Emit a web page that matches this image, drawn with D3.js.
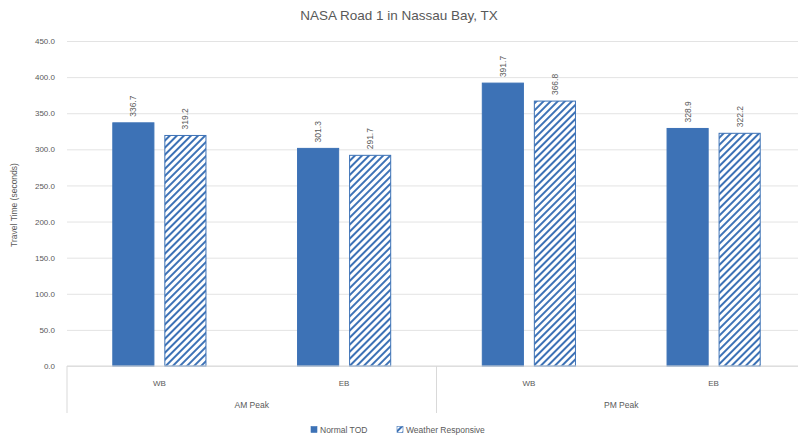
<!DOCTYPE html>
<html>
<head>
<meta charset="utf-8">
<script src="https://cdn.jsdelivr.net/npm/d3@7"></script>
<style>
  body { margin: 0; background: #fff; }
  text { font-family: "Liberation Sans", Arial, sans-serif; fill: #595959; }
</style>
</head>
<body>
<div id="chart"></div>
<script>
var groups = ["AM Peak", "PM Peak"];
var directions = ["WB", "EB"];
var categories = ["AM Peak|WB", "AM Peak|EB", "PM Peak|WB", "PM Peak|EB"];
var seriesNames = ["Normal TOD", "Weather Responsive"];
var normalTOD = [336.7, 301.3, 391.7, 328.9];
var weatherResponsive = [319.2, 291.7, 366.8, 322.2];
var yTicks = [0, 50, 100, 150, 200, 250, 300, 350, 400, 450];

function init(){
    var w = 798;
    var h = 442;
    var left = 67, right = 806, top = 41, bottom = 366;
    var blue = "#3d72b6";

    var svg = d3.select("#chart").append("svg")
        .attr("width", w)
        .attr("height", h);

    var defs = svg.append("defs");
    var pat = defs.append("pattern")
        .attr("id", "hatch")
        .attr("patternUnits", "userSpaceOnUse")
        .attr("width", 5)
        .attr("height", 5)
        .attr("patternTransform", "rotate(45)");
    pat.append("rect").attr("width", 5).attr("height", 5).attr("fill", "#fff");
    pat.append("rect").attr("width", 2).attr("height", 5).attr("fill", blue);

    var xScale = d3.scaleBand().domain(categories).range([left, right]);
    var xInner = d3.scaleBand().domain(seriesNames)
        .range([0, xScale.bandwidth()])
        .paddingInner(0.21)
        .paddingOuter(0.88);
    var yScale = d3.scaleLinear().domain([0, 450]).range([bottom, top]);

    // title
    svg.append("text")
        .attr("x", 399).attr("y", 20)
        .attr("text-anchor", "middle")
        .attr("font-size", 13.5)
        .text("NASA Road 1 in Nassau Bay, TX");

    // gridlines
    var yAxis = d3.axisLeft(yScale).tickValues(yTicks)
        .tickSize(-(right - left))
        .tickFormat(d3.format(".1f"))
        .tickPadding(12);
    var gy = svg.append("g")
        .attr("transform", `translate(${left},0)`)
        .call(yAxis);
    gy.select(".domain").remove();
    gy.selectAll(".tick line").attr("stroke", "#e3e3e3");
    gy.selectAll(".tick text").attr("font-size", 8).attr("fill", "#6a6a6a")
        .attr("font-family", "Liberation Sans, Arial, sans-serif");

    svg.append("text")
        .attr("transform", "translate(17,205) rotate(-90)")
        .attr("text-anchor", "middle")
        .attr("font-size", 8.5)
        .text("Travel Time (seconds)");

    // bars
    var data = [];
    categories.forEach(function(c, i){
        data.push({cat: c, s: seriesNames[0], v: normalTOD[i]});
        data.push({cat: c, s: seriesNames[1], v: weatherResponsive[i]});
    });

    svg.selectAll("rect.bar")
        .data(data)
        .enter()
        .append("rect")
        .attr("class", "bar")
        .attr("x", function(d){ return xScale(d.cat) + xInner(d.s); })
        .attr("y", function(d){ return yScale(d.v); })
        .attr("width", xInner.bandwidth())
        .attr("height", function(d){ return bottom - yScale(d.v); })
        .attr("fill", function(d){ return d.s === seriesNames[0] ? blue : "url(#hatch)"; })
        .attr("stroke", blue)
        .attr("stroke-width", 1);

    svg.selectAll("text.val")
        .data(data)
        .enter()
        .append("text")
        .attr("class", "val")
        .attr("transform", function(d){
            var x = xScale(d.cat) + xInner(d.s) + xInner.bandwidth() / 2 + 3;
            var y = yScale(d.v) - 6;
            return `translate(${x},${y}) rotate(-90)`;
        })
        .attr("font-size", 8.5)
        .attr("text-anchor", "start")
        .text(function(d){ return d3.format(".1f")(d.v); });

    // axis baseline and category labels
    svg.append("line")
        .attr("x1", left).attr("x2", right)
        .attr("y1", bottom).attr("y2", bottom)
        .attr("stroke", "#d9d9d9");

    svg.selectAll("text.dir")
        .data(categories)
        .enter()
        .append("text")
        .attr("class", "dir")
        .attr("x", function(d){ return xScale(d) + xScale.bandwidth() / 2; })
        .attr("y", bottom + 20)
        .attr("text-anchor", "middle")
        .attr("font-size", 8)
        .text(function(d){ return d.split("|")[1]; });

    var groupScale = d3.scaleBand().domain(groups).range([left, right]);
    svg.selectAll("text.grp")
        .data(groups)
        .enter()
        .append("text")
        .attr("class", "grp")
        .attr("x", function(d){ return groupScale(d) + groupScale.bandwidth() / 2; })
        .attr("y", bottom + 42)
        .attr("text-anchor", "middle")
        .attr("font-size", 8.5)
        .text(function(d){ return d; });

    svg.selectAll("line.sep")
        .data([left, groupScale("PM Peak"), right])
        .enter()
        .append("line")
        .attr("class", "sep")
        .attr("x1", function(d){ return d; })
        .attr("x2", function(d){ return d; })
        .attr("y1", bottom)
        .attr("y2", bottom + 47)
        .attr("stroke", "#d9d9d9");

    // legend
    var legend = svg.append("g").attr("transform", "translate(311,430)");
    var lx = [0, 86];
    seriesNames.forEach(function(s, i){
        var g = legend.append("g").attr("transform", `translate(${lx[i]},0)`);
        g.append("rect")
            .attr("x", 0).attr("y", -3.5)
            .attr("width", 6).attr("height", 6)
            .attr("fill", i === 0 ? blue : "url(#hatch)")
            .attr("stroke", blue)
            .attr("stroke-width", 0.6);
        g.append("text")
            .attr("x", 9).attr("y", 3)
            .attr("font-size", 8.5)
            .text(s);
    });
}
window.onload = init;
</script>
</body>
</html>
